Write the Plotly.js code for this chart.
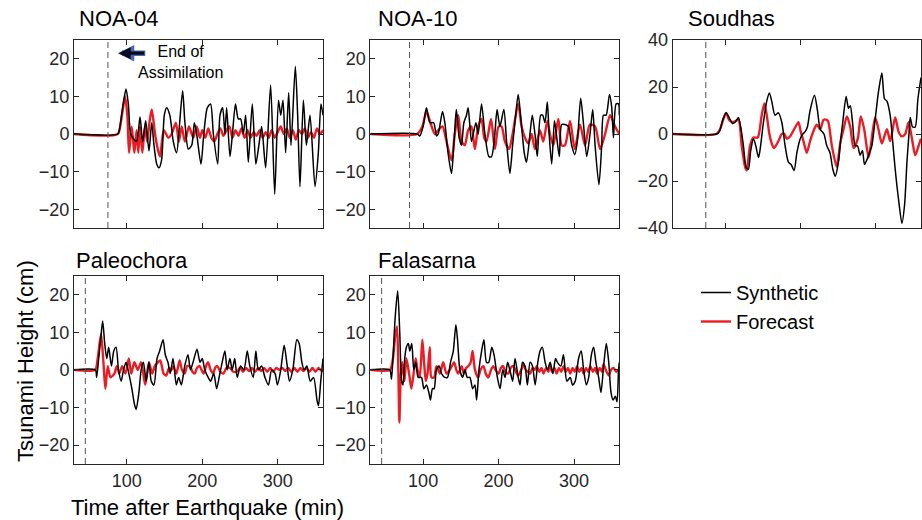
<!DOCTYPE html>
<html><head><meta charset="utf-8">
<script src="https://cdn.plot.ly/plotly-3.0.1.min.js"></script>
<style>html,body{margin:0;padding:0;background:#fff}#chart{width:922px;height:520px}</style>
</head><body><div id="chart"></div>
<script>
// ---- DATA: [time after earthquake (min), tsunami height (cm)] ----
const noa04Synthetic = [[30,0],[88,0],[90,1],[93,5],[96,9],[99,12],[102,8],[105,0],[108,-1],[113,-2],[117.5,4.5],[121,-2],[125,3.5],[129.4,-4.5],[133,3],[136,-3],[139.6,-8],[142.6,-9],[146,-7],[149.7,5],[152.8,7],[157,5],[161.6,-2],[166,-5],[169.6,2],[174,11.5],[177,3],[181.5,-4],[186,-3],[189.5,3],[192.6,0],[198.3,-8],[202,0],[206.7,7],[211,8],[214.7,0],[220.4,-8],[223.5,5],[227,7],[230,0],[232.3,7],[236.7,-6],[240,0],[244,8],[247.8,4],[250.9,4],[254.4,0],[257.5,5],[261,-7.5],[266.3,8],[271,-8],[275,-3],[278.7,2],[284,-9],[290.6,13],[296,-16],[301,9],[304,5],[307,9],[310.5,-5],[314.5,11],[317.6,-3],[323.3,18],[326.4,5],[329.5,-14],[334,9],[338,-3],[342.8,5],[349.4,-14],[353.8,-5],[357.3,8],[360,5]];
const noa04Forecast = [[30,0],[88,0],[92,3],[95,7],[97.6,10],[100.7,5],[103,-5],[106.4,2],[110,-5],[113,1],[115.3,-5],[117.5,2],[120.6,-5],[124,2],[127,-2],[130,3],[133,6.5],[137.4,0],[141,-4],[144,-6],[149,1],[155,-1],[159.4,0],[165,3],[169,-2],[172.7,2],[177,-2],[182.4,2],[188,-1],[192.6,2],[197,-1],[200,1],[204,-1],[208,1.5],[212,-1],[216,-2],[220,0],[224,1.5],[228,-0.5],[232,1],[236,2],[240,-1],[244,1],[248,-0.5],[252,1.5],[256,-1],[260,1],[264,-1],[268,0.5],[272,-0.5],[276,1],[280,-1],[284,0.5],[288,-1],[292,1],[296,-1],[300,0.5],[304,2],[308,0],[312,1.5],[316,-1],[320,1],[324,-1.5],[328,1],[332,0],[336,1.5],[340,-1],[344,0.5],[348,-1],[352,1.5],[356,0],[360,1]];
const noa10Synthetic = [[30,0],[92,0],[95.6,-0.5],[100,2],[104.4,7],[109,3],[114,3],[117.7,-0.5],[120,0],[125.7,6],[128.8,3],[133,-5],[137.6,-10.5],[141,-2],[144,6.5],[147.8,-1],[150.9,-3],[154,3],[157.5,5],[159.7,7],[164,-2],[166.4,0],[170,3],[173,0],[177.4,8],[181.9,0],[187.2,-6],[190.7,-6],[195,0],[198,6.5],[201.8,2],[207,6.5],[210.6,-2],[215,-10.5],[218.6,-3],[221.7,3],[226,10.5],[229.6,4],[234,-5],[237,-7.5],[241.6,0],[244.7,5],[248.2,0],[251.3,-6],[255.8,5],[258.4,5],[261.5,3],[264.6,8.5],[267,0],[270.4,-8],[274,3.5],[276,1],[280.5,-6],[283.6,2.5],[288,2.5],[292.5,2],[296.9,-3],[301,-5.5],[304.4,-2],[308.8,9.5],[312.4,3],[316.8,-6],[321.2,0],[324.8,6.5],[327.9,-3],[333,-13.5],[336.7,-3],[339,5],[342.5,5],[347,10.5],[350,7],[352.2,-1],[355.8,8],[358.9,8],[360,5]];
const noa10Forecast = [[30,0],[92,0],[99,2],[104.4,6],[109.7,3],[115.5,0],[120,1],[125.7,2],[131,-2],[137.6,-7],[142,0],[146.5,5],[151,-2],[155.3,-3],[159.7,1],[164,2],[168.6,-4],[173,2],[177.4,4],[181,-1],[184,-2],[190,4],[195.1,-4],[200,2],[204,2],[208.4,-2],[214,-4],[218.6,0],[226,8],[230.5,2],[235,-1],[239.4,-2.5],[243.8,0],[248.2,-4],[254.8,1],[259.3,-2],[264.6,3.5],[268,0],[272.6,-3],[279.2,4],[283.6,-3],[288,-3],[294.7,3.5],[301,-4],[308,2.5],[314.6,-3],[321,2.5],[327.9,2],[334.5,-4],[341.2,0],[347.8,5],[354.4,2],[360,0]];
const soudhasSynthetic = [[30,0],[88.5,0],[92,1],[96.5,6],[101,9],[105,7],[109.3,4.5],[113,5],[117.3,7],[120.4,3],[124,-5],[127.5,-14],[130.6,-15],[133.7,-7],[137.3,-2],[140.4,-5],[144,-10],[146,-7],[150.6,5],[155,14],[158.5,17.5],[161.6,14],[166,8],[170.5,9],[175,5],[179.4,-5],[183.8,-12],[187.4,-13],[191.4,-15.5],[195,-8],[199.5,-2],[203,0],[206,1],[209,3],[212.6,10],[218.4,16.5],[222.4,10],[226,2],[231,0],[234.8,-5],[239,-8],[242.8,-15],[246,-18],[250.3,-12],[253.4,-2],[256,5],[260.5,16],[263.6,11],[266,12],[269,5],[272.5,-5],[275.6,-5],[279.1,-9],[282.2,-7],[284.9,-13],[288,-11],[291.5,-8],[294.7,-5],[299,6],[303.5,18],[308,26],[311.5,15],[314.7,14],[319,8],[322.6,-4],[325.7,-15],[330.2,-28],[334.6,-38],[338.2,-30],[341.3,-12],[344,0],[345.7,7],[348.8,3],[352.3,3],[355.9,15],[360,24]];
const soudhasForecast = [[30,0],[88,0],[92.9,2],[97,6],[101,9],[105,6],[110.6,5],[117.3,6],[121.7,-5],[126.2,-14],[128.4,-15.5],[132.8,-5],[137.3,-1.5],[143,-1.5],[148.3,8],[151.9,13],[155,8],[158.5,0],[161.6,-4],[164.7,-6],[170.5,-3],[175,0],[178.5,0],[181.6,-2],[186,-1],[191.4,2],[197.1,5],[200.2,1],[203.8,-3],[208.2,-8],[212.6,-3],[218,2],[221.4,4],[226,2],[230.4,6],[234.8,6],[237,5],[241.5,-5],[248,-14],[252.6,-4],[257,2],[261.5,7.5],[266,3],[270.4,-6],[276,-2],[280,7.5],[284.5,2],[290.3,-10],[293.3,-5],[299.1,7],[303.5,2],[308,-4],[314.7,2],[319,-3],[325.7,7],[330.2,1],[334.6,-1],[339,0],[343.5,5],[348,-2],[352.3,-9],[356.8,-5],[360,-2]];
const paleochoraSynthetic = [[30,0],[58.3,0],[60,-2],[62.7,3],[65.8,9],[68,13],[70.7,7],[73.4,3],[76,6],[79.6,1],[82.7,5],[85.8,6],[89,0],[92.5,-3],[95.6,0],[99,2],[102.7,-1],[106.7,-5],[110,-9],[112.4,-10.5],[116,-6],[119,0],[122,2],[125.7,-3],[129.3,2],[132.4,-3],[136,-4],[140,3],[143.5,5],[148,8],[151,4],[154.5,2],[157.6,-1],[161.2,3],[165.6,-4],[168.7,-2],[172.3,-4],[176.7,1],[181,4],[184.3,0],[187.8,2],[193,5.5],[197,2],[200,3],[203.3,0],[207.8,-2],[211,-3],[215.3,-1],[219,-5],[223.3,-1],[226.4,2],[230,5],[233,0],[236.6,3],[239.7,0],[243,3],[246.3,-2],[250.8,1],[255.2,0],[259.6,5],[263,1],[267.6,-2],[271,5],[274.3,0],[278.7,1],[283,-2],[287.7,-4],[292,0],[296.5,-1],[299.6,-4],[304,0],[308.5,6.5],[312,2],[315.5,-3],[320,0],[325.3,8],[328.4,7],[332,2],[335,0],[338.6,1],[343,-3],[347.5,-2],[352,-8],[354,-9.5],[357,-3],[360,3]];
const paleochoraForecast = [[30,0],[58,0],[61.4,3],[65.8,9.5],[69,2],[71.6,-5],[74.7,1],[78.3,-2],[83.6,-1],[86.7,1],[90,-1],[93.8,1],[98.2,-1],[102.6,3],[105.8,-1],[110,2],[114.6,0],[119,2],[124.4,-4],[129.3,2],[133.7,-1],[137,1],[141.2,2],[144.3,2.5],[148.8,-1],[152.3,-1.5],[156,0.5],[159,0],[162,1],[165.6,-1],[170,2.5],[173,0],[176.7,-1],[180,1],[183.4,1],[187,-0.5],[190,-1],[193,0.5],[196.7,1],[199,0],[202,-1],[205,1],[207.8,2],[211,0],[214.4,-1],[217,0.5],[220,1],[224,-0.5],[228,-1],[232,0.5],[236.7,0.5],[241,-0.5],[245.5,-0.5],[250,0.5],[254,-0.5],[258,0.5],[262,-0.3],[266,0.5],[270,-0.5],[274,0.5],[278,-0.3],[282,0.5],[286,-0.5],[290,0.5],[294,-0.5],[298,0.5],[302,0],[306,0.5],[310,-0.3],[314,0.5],[318,-0.5],[322,0.5],[326,-0.5],[330,0.5],[334,-0.3],[338,0.5],[342,-0.5],[346,0.5],[350,-0.5],[354,0.5],[358,-0.3],[360,0]];
const falasarnaSynthetic = [[30,0],[55.7,0],[58,-2.5],[60,3],[63,14],[66.3,21],[69,10],[71.6,-3],[73.4,-4],[75.6,3],[77.8,6],[80.5,7],[82.3,5],[85,7],[87.6,0],[90.3,2],[93.4,-2],[97.8,-2],[101,-5],[104.5,-4],[107.6,-6],[109.7,-8],[112.4,-5],[114.6,-5],[117.7,0],[121.3,1],[124.4,-1],[128.8,-2],[132.3,-2],[136.3,2],[140,5],[143.4,12],[145.6,8],[148.7,0],[152.3,-2],[155.4,0],[158.5,-2],[162,-2],[165.6,-5],[168.7,-4],[170.9,-8],[174,0],[177.5,5],[180.6,8],[184,2],[187,2],[191,6],[194,4],[198.4,-2],[202,-5],[205.5,0],[208.6,-2],[212,2],[215,0],[218.7,-3],[221.8,3],[226,-2],[228.5,-4],[231.6,2],[235,1],[238.2,-4],[241.7,2],[244.9,1],[248.5,-4],[252,2],[255,5],[258,6],[261.7,2],[264.8,0],[268.4,2],[272,-1],[275.5,3],[278,2],[282.5,1],[286,4],[290.5,-3],[295,-2],[298,-4],[301.6,-3],[306,3],[309.6,5],[312.7,0],[316.3,-4],[319.4,-2],[323,4],[326,6],[329,2],[332.6,-2],[335.7,-6],[339.2,1],[342.8,7],[346,2],[349,-6],[351.7,-8],[354.8,-7],[357,-8.5],[359,0],[360,2]];
const falasarnaForecast = [[30,0],[56,0],[60,3],[63,9],[65.4,11.5],[67.2,0],[68.5,-14],[70.3,-2],[72.5,2],[75.2,-3],[77.8,3],[81.4,-1],[84.5,-5],[88,0],[90.2,3],[92.5,0],[95.5,-2],[99,8],[101.3,2],[103.5,-3],[105.8,-1],[108.9,6],[111,-2],[114.6,-2],[117.7,1],[122.2,-1],[126.6,2],[131,-1],[135.4,0],[138,1],[141.2,2],[144,0],[146.5,-1],[151,1],[154,-1],[157,0.5],[160,1],[163,2],[165.6,5],[168.7,0],[173,-2],[176,0],[180,1],[183,-1],[186.4,-2],[190,0],[193,1],[196,0],[200,-1],[203,0.5],[206,1],[209,-0.5],[213,-1],[216,0.5],[219.6,1],[223,-0.5],[226,-1.5],[230,0],[233,1.5],[236,0],[239,-0.5],[241.8,-1],[245,0.5],[248,0],[250.6,1],[254,-0.5],[257,0.5],[259.5,-1],[263,0.5],[266,-0.5],[268,1],[271,-0.5],[274,0.5],[277,-1],[280,0.5],[283,-0.5],[286,1],[289,-0.5],[292,0.5],[295,-1],[298,0.5],[301,-0.5],[304,1],[307,-0.5],[310,0.5],[312.7,-1],[316,0.5],[319,-0.5],[321.5,1],[325,-0.5],[328,0.5],[330.4,-1],[334,0.5],[337,-0.5],[339,1.5],[342,0],[346,-1.5],[349,0],[352.5,0.5],[356,-0.5],[360,0]];

const stations = ['NOA-04', 'NOA-10', 'Soudhas', 'Paleochora', 'Falasarna'];
const assimilationEnd = [75, 82, 74, 45, 45];
const xTickVals = [100, 200, 300];
const yTicksCommon = [-20, -10, 0, 10, 20];
const yTicksSoudhas = [-40, -20, 0, 20, 40];
const syntheticSeries = [noa04Synthetic, noa10Synthetic, soudhasSynthetic, paleochoraSynthetic, falasarnaSynthetic];
const forecastSeries = [noa04Forecast, noa10Forecast, soudhasForecast, paleochoraForecast, falasarnaForecast];
const seriesNames = ['Synthetic', 'Forecast'];

// ---- LAYOUT ----
const FONT = 'Liberation Sans, Arial, Helvetica, sans-serif';
const AX = '#262626';
const W = 922, H = 520;
const px = v => v / W, py = v => 1 - v / H;
const xDomains = [[74,323],[370.3,619.3],[672.7,921]].map(d => [px(d[0]), px(d[1])]);
const rowTop = [py(228), py(40)], rowBot = [py(464), py(275.7)];
const panelX = [xDomains[0], xDomains[1], xDomains[2], xDomains[0], xDomains[1]];
const panelY = [rowTop, rowTop, rowTop, rowBot, rowBot];
const titlePos = [[77,19],[376,19],[686,19],[74,260],[376,260]];

const traces = [];
const layout = {
  width: W, height: H,
  margin: {l:0, r:0, t:0, b:0},
  paper_bgcolor: '#fff', plot_bgcolor: '#fff',
  font: {family: FONT, color: AX, size: 18},
  showlegend: true,
  legend: {x: px(696), y: py(273), xanchor: 'left', yanchor: 'top',
           font: {family: FONT, size: 20, color: '#000'}, traceorder: 'grouped',
           tracegroupgap: 0, bgcolor: 'rgba(0,0,0,0)'},
  shapes: [], annotations: []
};

stations.forEach((name, i) => {
  const k = i === 0 ? '' : String(i + 1);
  const xa = 'x' + k, ya = 'y' + k;
  const fc = forecastSeries[i], sy = syntheticSeries[i];
  traces.push({x: fc.map(p => p[0]), y: fc.map(p => p[1]), xaxis: xa, yaxis: ya,
    type: 'scatter', mode: 'lines', name: seriesNames[1], legendgroup: 'fc', legendrank: 2,
    showlegend: i === 0, line: {color: '#ec1c24', width: 2.4, shape: 'spline', smoothing: 0.7}});
  traces.push({x: sy.map(p => p[0]), y: sy.map(p => p[1]), xaxis: xa, yaxis: ya,
    type: 'scatter', mode: 'lines', name: seriesNames[0], legendgroup: 'syn', legendrank: 1,
    showlegend: i === 0, line: {color: '#000', width: 1.5, shape: 'spline', smoothing: 0.7}});
  const bottom = i >= 3;
  layout['xaxis' + k] = {domain: panelX[i], anchor: ya, range: [30, 360], tickvals: xTickVals,
    ticktext: xTickVals.map(String), showticklabels: bottom, ticks: 'inside', ticklen: 5,
    tickcolor: AX, showline: true, linecolor: AX, linewidth: 1, mirror: 'allticks',
    showgrid: false, zeroline: false, tickfont: {size: 18, color: AX, family: FONT}};
  const yt = i === 2 ? yTicksSoudhas : yTicksCommon;
  layout['yaxis' + k] = {domain: panelY[i], anchor: xa, range: i === 2 ? [-40, 40] : [-25, 25],
    tickvals: yt, ticks: 'inside', ticklen: 5, tickcolor: AX, showline: true, linecolor: AX,
    linewidth: 1, mirror: 'allticks', showgrid: false, zeroline: false,
    tickfont: {size: 18, color: AX, family: FONT}};
  layout.shapes.push({type: 'line', xref: xa, yref: ya + ' domain', x0: assimilationEnd[i],
    x1: assimilationEnd[i], y0: 0, y1: 1, line: {color: '#555', width: 1, dash: '6px,4px'}});
  layout.annotations.push({xref: 'paper', yref: 'paper', x: px(titlePos[i][0]), y: py(titlePos[i][1]),
    xanchor: 'left', yanchor: 'middle', text: name, showarrow: false,
    font: {family: FONT, size: 22, color: '#000'}});
});

layout.annotations.push(
  {xref: 'paper', yref: 'paper', x: px(25), y: py(361), text: 'Tsunami Height (cm)', textangle: -90,
   showarrow: false, xanchor: 'center', yanchor: 'middle', font: {family: FONT, size: 22, color: '#000'}},
  {xref: 'paper', yref: 'paper', x: px(207), y: py(507), text: 'Time after Earthquake (min)',
   showarrow: false, xanchor: 'center', yanchor: 'middle', font: {family: FONT, size: 22, color: '#000'}},
  {xref: 'paper', yref: 'paper', x: px(180), y: py(61.5), text: 'End of<br>Assimilation', align: 'center',
   showarrow: false, xanchor: 'center', yanchor: 'middle', font: {family: FONT, size: 16, color: '#000'}},
  {xref: 'x', yref: 'y', x: 88, y: 21.5, ax: 29, ay: 0, text: '', showarrow: true,
   arrowhead: 2, arrowsize: 0.6, arrowwidth: 5.5, arrowcolor: '#4a68b0'},
  {xref: 'x', yref: 'y', x: 89.2, y: 21.5, ax: 27, ay: 0, text: '', showarrow: true,
   arrowhead: 2, arrowsize: 0.75, arrowwidth: 3.2, arrowcolor: '#0b0b1e'}
);

Plotly.newPlot('chart', traces, layout, {staticPlot: true, displayModeBar: false});
</script></body></html>
